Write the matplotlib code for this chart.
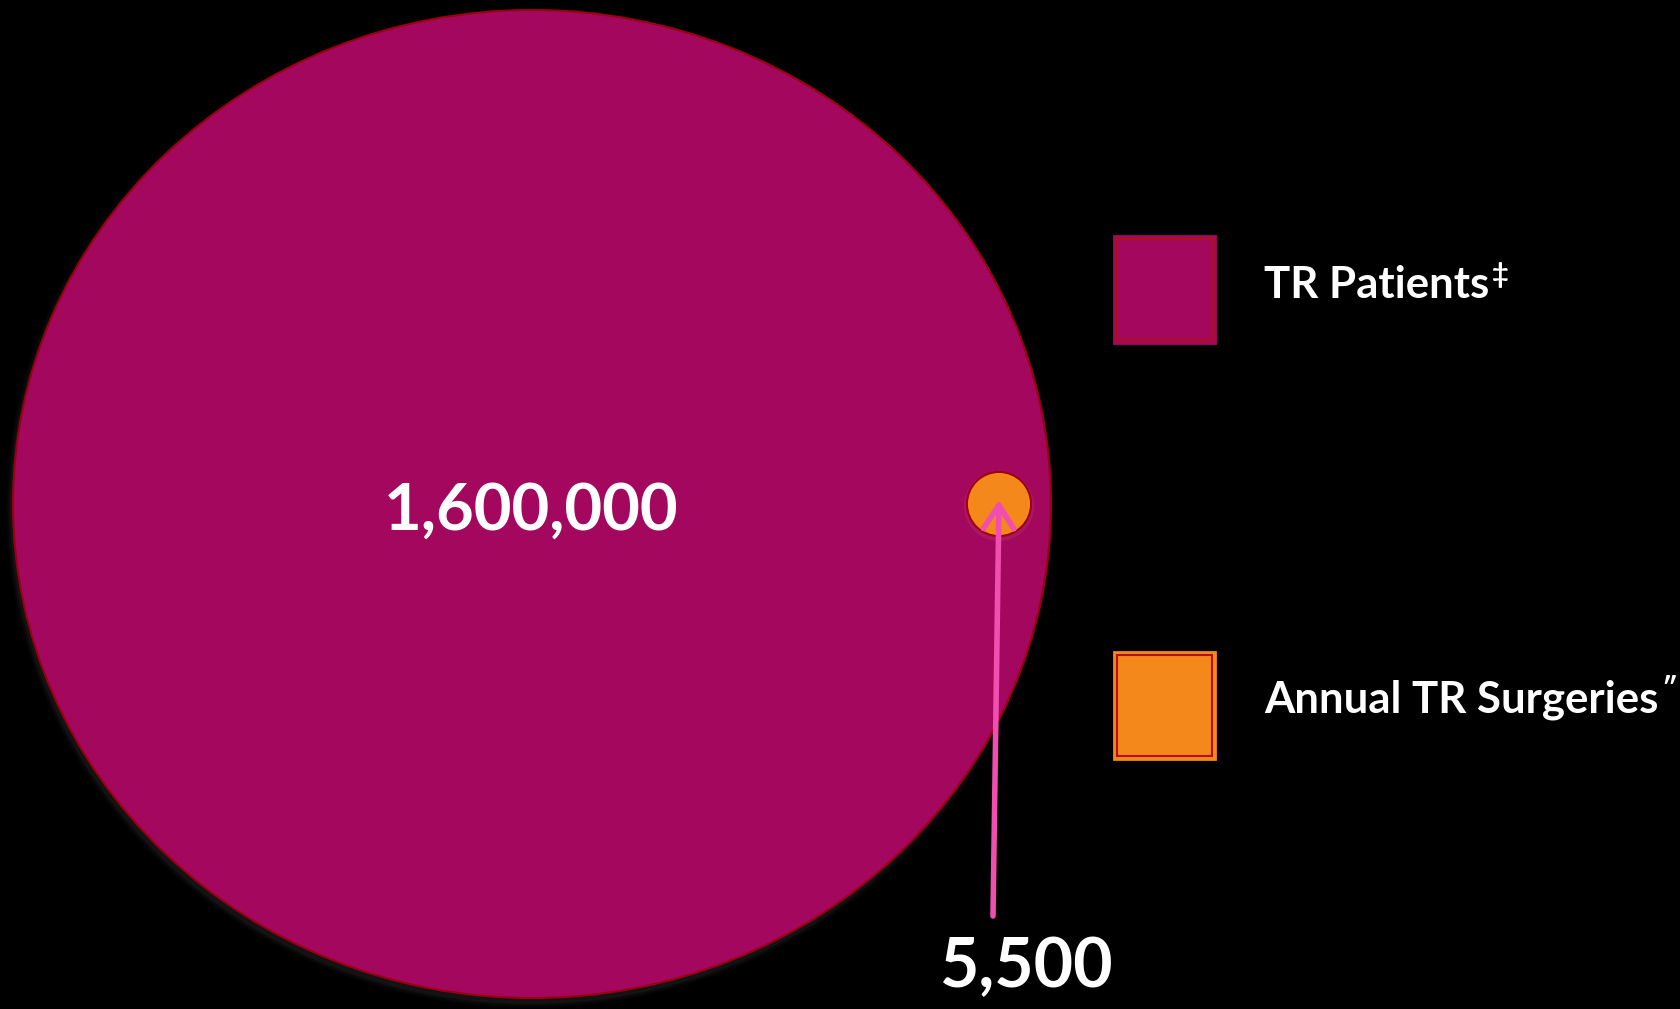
import numpy as np
import matplotlib.pyplot as plt
from matplotlib.patches import Ellipse, Circle, Rectangle

plt.rcParams['font.family'] = ['Lato', 'DejaVu Sans']

# data
labels = ['TR Patients', 'Annual TR Surgeries']
marks = ['\u2021', '\u2033']
values = [1600000, 5500]
value_text = ['1,600,000', '5,500']
colors = ['#A3085E', '#F5881A']

W, H = 1681, 1009
fig = plt.figure(figsize=(W / 100, H / 100), dpi=100, facecolor='black')
ax = fig.add_axes([0, 0, 1, 1])
ax.set_xlim(0, W)
ax.set_ylim(H, 0)
ax.set_facecolor('black')
ax.axis('off')

# big bubble (slightly squashed like the original)
cx, cy = 532, 504
rx, ry = 519, 494
# soft shadow under it
for i, a in enumerate([0.05, 0.08, 0.12]):
    ax.add_patch(Ellipse((cx - 2, cy + 4), 2 * rx + 10 - 4 * i, 2 * ry + 12 - 4 * i,
                         facecolor='#555555', edgecolor='none', alpha=a))
ax.add_patch(Ellipse((cx, cy), 2 * rx, 2 * ry, facecolor=colors[0],
                     edgecolor='#9A0010', lw=1.5))

# small bubble, area scaled to value
r_small = np.sqrt(values[1] / values[0]) * (rx + ry) / 2 * 1.08
sx, sy = 999, 504
ax.add_patch(Circle((sx, sy + 2), r_small + 3, facecolor='#C06080', alpha=0.18,
                    edgecolor='none'))
ax.add_patch(Circle((sx, sy), r_small, facecolor=colors[1], edgecolor='#A00010',
                    lw=1.5))

ax.text(531, 530, value_text[0], color='white', fontsize=47, fontweight='bold',
        ha='center', va='baseline')

# arrow pointing at the small bubble
ax.annotate('', xy=(sx, 500), xytext=(993, 916),
            arrowprops=dict(arrowstyle='->,head_length=0.85,head_width=0.55',
                            color='#F04FAF', lw=4, shrinkA=0, shrinkB=0,
                            mutation_scale=20, capstyle='round',
                            joinstyle='round'))
ax.text(1026, 987, value_text[1], color='white', fontsize=49, fontweight='bold',
        ha='center', va='baseline')

# legend
sq_y = [236, 652]
text_y = [298, 713]
for lab, mk, col, y0, ty in zip(labels, marks, colors, sq_y, text_y):
    ax.add_patch(Rectangle((1114, y0), 101, 107, facecolor=col, edgecolor=col, lw=2))
    ax.add_patch(Rectangle((1117, y0 + 3), 95, 101, facecolor='none',
                           edgecolor='#B01018', lw=1.5))
    t = ax.text(1264, ty, lab, color='white', fontsize=31.5, fontweight='bold',
                ha='left', va='baseline')
    ax.annotate(mk, xy=(1, 1), xycoords=t, xytext=(2, 2), textcoords='offset points',
                color='white', fontsize=21, fontweight='bold', ha='left', va='top')

fig.savefig('out.png', dpi=100, facecolor='black')
